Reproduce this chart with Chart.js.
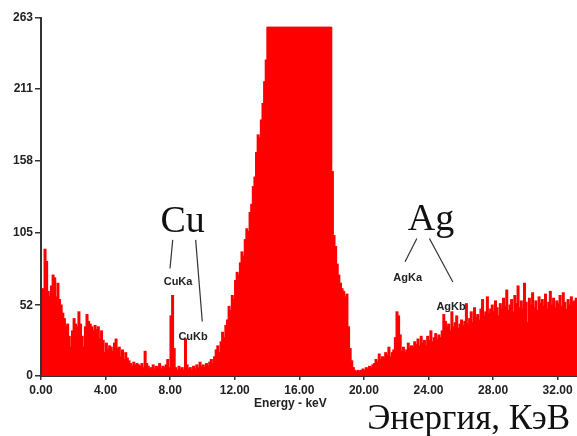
<!DOCTYPE html>
<html>
<head>
<meta charset="utf-8">
<script src="https://cdn.jsdelivr.net/npm/chart.js@4.4.1/dist/chart.umd.min.js"></script>
<style>
    body { margin: 0; background: #fff; }
    #caja { width: 577px; height: 436px; }
</style>
</head>
<body>
<div id="caja"><canvas id="grafico" width="577" height="436"></canvas></div>
<script>
// ancho de canal del espectro, keV
let anchoCanal = 0.1;

// cuentas por canal de 0.1 keV, una fila por keV
let cuentas = [
    0, 64, 93, 84, 62, 58, 66, 74, 72, 58,             // 0
    68, 56, 52, 46, 42, 36, 38, 29, 21, 33,            // 1
    42, 38, 36, 47, 38, 29, 21, 36, 45, 40,            // 2
    38, 36, 33, 37, 34, 36, 27, 33, 26, 17,            // 3
    24, 19, 22, 21, 18, 24, 27, 20, 21, 14,            // 4
    19, 12, 17, 13, 11, 9, 7, 10, 8, 9,                // 5
    8, 7, 9, 6, 18, 9, 7, 5, 6, 8,                     // 6
    5, 7, 6, 9, 5, 7, 6, 8, 12, 6,                     // 7
    44, 59, 20, 6, 4, 7, 5, 6, 4, 27,                  // 8  CuKa, CuKb
    8, 5, 6, 4, 7, 5, 8, 6, 10, 7,                     // 9
    8, 6, 9, 7, 10, 12, 9, 14, 19, 22,                 // 10
    17, 25, 32, 28, 37, 41, 51, 48, 59, 56,            // 11
    70, 76, 74, 83, 91, 88, 100, 108, 106, 120,        // 12
    126, 139, 146, 164, 177, 175, 188, 200, 216, 232,  // 13
    256, 256, 256, 256, 256, 256, 256, 256, 256, 256,  // 14
    256, 256, 256, 256, 256, 256, 256, 256, 256, 256,  // 15
    256, 256, 256, 256, 256, 256, 256, 256, 256, 256,  // 16
    256, 256, 256, 256, 256, 256, 256, 256, 256, 256,  // 17
    150, 103, 95, 82, 74, 68, 64, 62, 58, 60,          // 18
    36, 20, 11, 6, 4, 3, 4, 3, 4, 5,                   // 19
    4, 6, 5, 7, 6, 8, 9, 12, 10, 16,                   // 20
    12, 14, 13, 17, 15, 21, 14, 17, 19, 28,            // 21
    47, 44, 30, 18, 21, 17, 19, 24, 20, 22,            // 22 AgKa
    21, 25, 23, 27, 22, 29, 24, 26, 22, 29,            // 23
    26, 33, 25, 28, 31, 27, 30, 28, 33, 45,            // 24
    40, 36, 38, 33, 47, 36, 39, 44, 35, 38,            // 25 AgKb
    41, 37, 40, 53, 38, 42, 47, 39, 50, 43,            // 26
    45, 41, 49, 56, 44, 47, 58, 46, 49, 52,            // 27
    47, 55, 50, 44, 53, 49, 57, 51, 63, 48,            // 28
    52, 56, 47, 59, 53, 66, 50, 55, 49, 68,            // 29
    54, 39, 57, 52, 61, 50, 55, 48, 58, 53,            // 30
    56, 51, 60, 49, 54, 62, 52, 57, 50, 55,            // 31
    53, 59, 51, 61, 54, 49, 56, 52, 58, 54,            // 32
    55, 57                                             // 33
];

let ticksX = [0, 4, 8, 12, 16, 20, 24, 28, 32];
let ticksY = [0, 52, 105, 158, 211, 263];
let maxX = 33.2;
let maxY = 263;

// textos sobre el grafico: [texto, keV, cuentas]
let elementos = [["Cu", 8.77, 106], ["Ag", 24.16, 107]];
let lineasK = ["CuKa", "CuKb", "AgKa", "AgKb"];
let posK = [[8.49, 69], [9.42, 29], [22.71, 72], [25.4, 51]];
// lineas de la etiqueta al pico: [keV1, c1, keV2, c2]
let guias = [
    [8.16, 100, 7.99, 79],
    [9.58, 100, 9.99, 40],
    [23.28, 101, 22.55, 84],
    [24.06, 101, 25.51, 69]
];

let fuenteSans = "'Liberation Sans', Arial, sans-serif";
let fuenteSerif = "'Liberation Serif', 'Times New Roman', serif";

const notas = {
    id: "notas",
    afterDatasetsDraw(chart) {
        let ctx = chart.ctx;
        let sx = chart.scales.x;
        let sy = chart.scales.y;
        let area = chart.chartArea;
        ctx.save();

        ctx.strokeStyle = "#333";
        ctx.lineWidth = 1.2;
        guias.forEach(function (g) {
            ctx.beginPath();
            ctx.moveTo(sx.getPixelForValue(g[0]), sy.getPixelForValue(g[1]));
            ctx.lineTo(sx.getPixelForValue(g[2]), sy.getPixelForValue(g[3]));
            ctx.stroke();
        });

        ctx.fillStyle = "#111";
        ctx.textAlign = "center";
        ctx.textBaseline = "alphabetic";
        ctx.font = "38px " + fuenteSerif;
        elementos.forEach(function (e) {
            ctx.fillText(e[0], sx.getPixelForValue(e[1]), sy.getPixelForValue(e[2]));
        });

        ctx.fillStyle = "#222";
        ctx.textBaseline = "middle";
        ctx.font = "bold 11px " + fuenteSans;
        lineasK.forEach(function (t, i) {
            ctx.fillText(t, sx.getPixelForValue(posK[i][0]), sy.getPixelForValue(posK[i][1]));
        });

        ctx.font = "bold 12px " + fuenteSans;
        ctx.fillText("Energy - keV", sx.getPixelForValue(15.45), area.bottom + 28);

        ctx.fillStyle = "#111";
        ctx.textAlign = "right";
        ctx.textBaseline = "alphabetic";
        ctx.font = "35px " + fuenteSerif;
        ctx.fillText("Энергия, КэВ", chart.width - 7, 429);

        ctx.restore();
    }
};

function crearGrafico() {
    let puntos = cuentas.map(function (c, i) {
        return { x: i * anchoCanal + anchoCanal / 2, y: c };
    });

    new Chart(document.getElementById("grafico"), {
        type: "bar",
        data: {
            datasets: [{
                data: puntos,
                backgroundColor: "#ff0000",
                borderWidth: 0,
                inflateAmount: 0.7,
                barPercentage: 1,
                categoryPercentage: 1
            }]
        },
        options: {
            responsive: false,
            animation: false,
            layout: { padding: { top: 18, right: 0, bottom: 0, left: 0 } },
            plugins: {
                legend: { display: false },
                tooltip: { enabled: false }
            },
            scales: {
                x: {
                    type: "linear",
                    min: 0,
                    max: maxX,
                    offset: false,
                    afterBuildTicks: function (s) {
                        s.ticks = ticksX.map(v => ({ value: v }));
                    },
                    afterFit: function (s) { s.height = 60; },
                    grid: { drawOnChartArea: false, offset: false, tickLength: 4, color: "#333", lineWidth: 1.5 },
                    border: { color: "#333", width: 2 },
                    ticks: {
                        color: "#222",
                        padding: 3,
                        maxRotation: 0,
                        font: { family: fuenteSans, size: 12, weight: "bold" },
                        callback: v => v.toFixed(2)
                    }
                },
                y: {
                    min: 0,
                    max: maxY,
                    afterBuildTicks: function (s) {
                        s.ticks = ticksY.map(v => ({ value: v }));
                    },
                    afterFit: function (s) { s.width = 41; },
                    grid: { drawOnChartArea: false, tickLength: 6, color: "#333", lineWidth: 1.5 },
                    border: { color: "#333", width: 2 },
                    ticks: {
                        color: "#222",
                        padding: 2,
                        font: { family: fuenteSans, size: 12, weight: "bold" }
                    }
                }
            }
        },
        plugins: [notas]
    });
}

crearGrafico();
</script>
</body>
</html>
